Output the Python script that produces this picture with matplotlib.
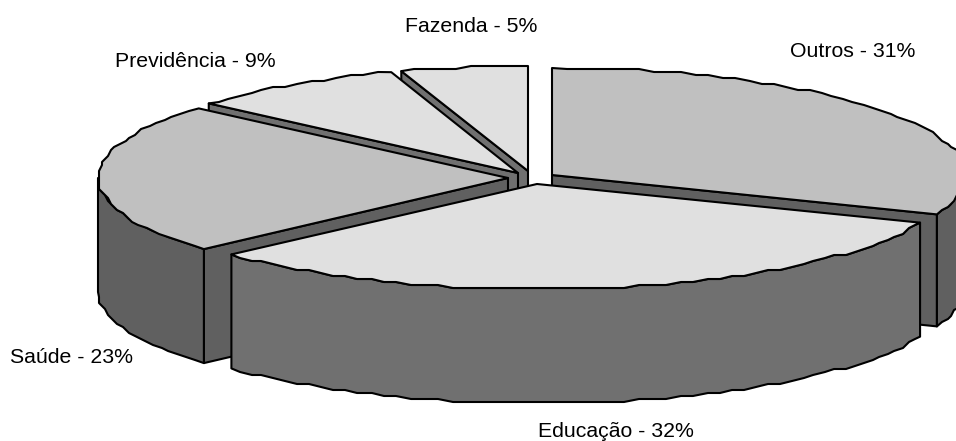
import matplotlib
matplotlib.use('Agg')
import matplotlib.pyplot as plt
import numpy as np
from matplotlib.patches import Polygon

names = ['Outros', 'Educação', 'Saúde', 'Previdência', 'Fazenda']
shares = [31.0, 32.3, 23.1, 8.6, 5.0]

top_colors = ['#C0C0C0', '#E0E0E0', '#C0C0C0', '#E0E0E0', '#E0E0E0']
side_colors = ['#606060', '#707070', '#606060', '#707070', '#707070']
centers = [(552, 175), (537, 184), (508, 178), (518, 173), (528, 171)]
radius_x = [414, 412, 410, 410, 410]
radius_y = [107, 105, 106, 106, 105]
depths = [112, 114, 114, 114, 114]
label_pos = [(790, 57), (538, 437), (10, 363), (115, 67), (405, 32)]

plt.rcParams['font.family'] = ['Liberation Sans', 'DejaVu Sans']


def arc(c, a, b, t0, t1):
	n = max(int(abs(t1 - t0) / 2), 2)
	t = np.radians(np.linspace(t0, t1, n + 1))
	x = c[0] + a * np.sin(t)
	y = c[1] - b * np.cos(t)
	# the original outline is jagged, coarse coordinates give the same look
	xr = np.round(x / 3) * 3
	yr = np.round(y / 3) * 3
	xr[0], xr[-1] = x[0], x[-1]
	yr[0], yr[-1] = y[0], y[-1]
	return np.column_stack([xr, yr])


def add_poly(ax, pts, color):
	ax.add_patch(Polygon(pts, closed=True, facecolor=color, edgecolor='black', linewidth=1.5, joinstyle='round'))


def draw_slice(ax, i, t0, t1):
	c, a, b = centers[i], radius_x[i], radius_y[i]
	drop = np.array([0, depths[i]])
	# radial wall that faces the viewer
	t_wall = t1 if t1 < 180 else t0
	if t_wall < 360 and (t1 < 180 or t0 > 180):
		rad = np.radians(t_wall)
		corner = np.array([c[0] + a * np.sin(rad), c[1] - b * np.cos(rad)])
		apex = np.array(c, dtype=float)
		add_poly(ax, [apex, corner, corner + drop, apex + drop], side_colors[i])
	# outer wall, only the part in the front half
	lo, hi = max(t0, 90), min(t1, 270)
	if lo < hi:
		edge = arc(c, a, b, lo, hi)
		add_poly(ax, np.vstack([edge, (edge + drop)[::-1]]), side_colors[i])
	add_poly(ax, np.vstack([[c], arc(c, a, b, t0, t1)]), top_colors[i])


fig = plt.figure(figsize=(9.56, 4.41), dpi=100)
ax = fig.add_axes([0, 0, 1, 1])
ax.set_xlim(0, 956)
ax.set_ylim(441, 0)
ax.axis('off')

edges = np.concatenate([[0], np.cumsum(shares)]) * 3.6
# back slices first so the front ones cover them
for i in [4, 3, 0, 2, 1]:
	draw_slice(ax, i, edges[i], edges[i + 1])

for i, name in enumerate(names):
	ax.text(label_pos[i][0], label_pos[i][1], f'{name} - {round(shares[i])}%', fontsize=15.3, color='black', ha='left', va='baseline')

plt.savefig('out.png', dpi=100)
